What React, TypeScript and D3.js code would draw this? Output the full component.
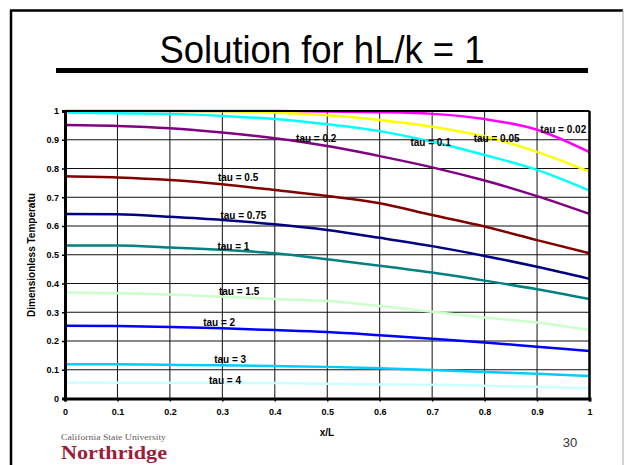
import React, { useEffect, useRef } from 'react';
import * as d3 from 'd3';

// x positions along the slab
const xValues = [0, 0.1, 0.2, 0.3, 0.4, 0.5, 0.6, 0.7, 0.8, 0.9, 1];

// dimensionless temperature for each tau
const tau002 = [1, 1, 1, 1, 1, 0.998, 0.996, 0.99, 0.972, 0.935, 0.857];
const tau005 = [1, 1, 1, 0.999, 0.995, 0.985, 0.969, 0.945, 0.911, 0.858, 0.789];
const tau01 = [0.995, 0.992, 0.99, 0.983, 0.972, 0.954, 0.93, 0.893, 0.847, 0.795, 0.723];
const tau02 = [0.951, 0.948, 0.94, 0.925, 0.905, 0.878, 0.843, 0.804, 0.758, 0.704, 0.642];
const tau05 = [0.773, 0.769, 0.76, 0.745, 0.725, 0.704, 0.679, 0.638, 0.598, 0.551, 0.505];
const tau075 = [0.642, 0.641, 0.632, 0.621, 0.606, 0.586, 0.559, 0.53, 0.496, 0.458, 0.416];
const tau1 = [0.532, 0.532, 0.525, 0.517, 0.505, 0.484, 0.462, 0.438, 0.41, 0.38, 0.346];
const tau15 = [0.369, 0.366, 0.362, 0.354, 0.346, 0.339, 0.322, 0.302, 0.282, 0.264, 0.238];
const tau2 = [0.253, 0.252, 0.249, 0.244, 0.238, 0.231, 0.22, 0.208, 0.195, 0.18, 0.165];
const tau3 = [0.119, 0.119, 0.117, 0.116, 0.113, 0.11, 0.105, 0.099, 0.092, 0.086, 0.078];
const tau4 = [0.056, 0.055, 0.055, 0.054, 0.054, 0.051, 0.049, 0.048, 0.044, 0.041, 0.036];

const seriesNames = ['tau = 0.02', 'tau = 0.05', 'tau = 0.1', 'tau = 0.2', 'tau = 0.5', 'tau = 0.75',
  'tau = 1', 'tau = 1.5', 'tau = 2', 'tau = 3', 'tau = 4'];
const seriesValues = [tau002, tau005, tau01, tau02, tau05, tau075, tau1, tau15, tau2, tau3, tau4];
const seriesColors = ['#ff00ff', '#ffff00', '#00ffff', '#800080', '#800000', '#000080',
  '#008080', '#ccffcc', '#0000ff', '#00ccff', '#ccffff'];

// where each tau label sits, in data units
const labelX = [0.95, 0.823, 0.697, 0.479, 0.33, 0.34, 0.321, 0.332, 0.294, 0.315, 0.305];
const labelY = [0.937, 0.905, 0.891, 0.906, 0.77, 0.638, 0.528, 0.371, 0.266, 0.134, 0.062];

const tickValues = [0, 0.1, 0.2, 0.3, 0.4, 0.5, 0.6, 0.7, 0.8, 0.9, 1];
const tickLabels = ['0', '0.1', '0.2', '0.3', '0.4', '0.5', '0.6', '0.7', '0.8', '0.9', '1'];

const App = () => {
  const ref = useRef<SVGSVGElement | null>(null);

  useEffect(() => {
    if (!ref.current) return;
    const svg = d3.select(ref.current);
    svg.selectAll('*').remove();

    const font = 'Liberation Sans, Arial, sans-serif';
    const left = 65, right = 589.5, top = 111, bottom = 398.5;

    // slide frame
    svg.append('rect').attr('width', 627).attr('height', 465).attr('fill', '#fff');
    svg.append('line').attr('x1', 11).attr('x2', 11).attr('y1', 10).attr('y2', 465)
      .attr('stroke', '#000').attr('stroke-width', 2.5);
    svg.append('line').attr('x1', 10).attr('x2', 623).attr('y1', 10.5).attr('y2', 10.5)
      .attr('stroke', '#000').attr('stroke-width', 2.5);
    svg.append('line').attr('x1', 623).attr('x2', 623).attr('y1', 10).attr('y2', 465)
      .attr('stroke', '#aaa').attr('stroke-width', 1);

    svg.append('text')
      .attr('x', 322).attr('y', 63)
      .attr('text-anchor', 'middle')
      .attr('font-family', font).attr('font-size', 38)
      .attr('textLength', 325).attr('lengthAdjust', 'spacingAndGlyphs')
      .text('Solution for hL/k = 1');
    svg.append('rect').attr('x', 56).attr('y', 68).attr('width', 532).attr('height', 5).attr('fill', '#000');

    const x = d3.scaleLinear().domain([0, 1]).range([left, right]);
    const y = d3.scaleLinear().domain([0, 1]).range([bottom, top]);

    const g = svg.append('g');

    // grid
    g.selectAll('.vgrid')
      .data(tickValues.slice(1, -1))
      .enter().append('line')
      .attr('x1', d => x(d)).attr('x2', d => x(d))
      .attr('y1', top).attr('y2', bottom)
      .attr('stroke', '#111').attr('stroke-width', 1);
    g.selectAll('.hgrid')
      .data(tickValues.slice(1, -1))
      .enter().append('line')
      .attr('x1', left).attr('x2', right)
      .attr('y1', d => y(d)).attr('y2', d => y(d))
      .attr('stroke', '#111').attr('stroke-width', 1);

    // curves
    const line = d3.line<number>()
      .x((d, i) => x(xValues[i]))
      .y(d => y(d))
      .curve(d3.curveMonotoneX);

    seriesValues.forEach((vals, i) => {
      g.append('path')
        .datum(vals)
        .attr('fill', 'none')
        .attr('stroke', seriesColors[i])
        .attr('stroke-width', 2.5)
        .attr('d', line);
    });

    // plot border
    g.append('line').attr('x1', left).attr('x2', right).attr('y1', top).attr('y2', top)
      .attr('stroke', '#000').attr('stroke-width', 2);
    g.append('line').attr('x1', right).attr('x2', right).attr('y1', top).attr('y2', bottom)
      .attr('stroke', '#000').attr('stroke-width', 2.5);

    // axes
    const fmt = (d: d3.NumberValue) => tickLabels[tickValues.indexOf(+d)];
    const xAxis = g.append('g')
      .attr('transform', `translate(0,${bottom})`)
      .call(d3.axisBottom(x).tickValues(tickValues).tickFormat(fmt).tickSize(3).tickPadding(7));
    const yAxis = g.append('g')
      .attr('transform', `translate(${left},0)`)
      .call(d3.axisLeft(y).tickValues(tickValues).tickFormat(fmt).tickSize(3).tickPadding(3));
    [xAxis, yAxis].forEach(a => {
      a.select('.domain').attr('stroke', '#000').attr('stroke-width', 3);
      a.selectAll('.tick line').attr('stroke', '#000').attr('stroke-width', 1.5);
      a.selectAll('text')
        .attr('font-family', font).attr('font-size', 9).attr('font-weight', 'bold').attr('fill', '#000');
    });

    // series labels
    g.selectAll('.label')
      .data(seriesNames)
      .enter().append('text')
      .attr('x', (d, i) => x(labelX[i]))
      .attr('y', (d, i) => y(labelY[i]))
      .attr('dy', '0.35em')
      .attr('text-anchor', 'middle')
      .attr('font-family', font).attr('font-size', 10).attr('font-weight', 'bold')
      .text(d => d);

    // axis titles
    svg.append('text')
      .attr('transform', 'translate(35,255) rotate(-90)')
      .attr('text-anchor', 'middle')
      .attr('font-family', font).attr('font-size', 10).attr('font-weight', 'bold')
      .text('Dimensionless Temperatu');
    svg.append('text')
      .attr('x', 327).attr('y', 436)
      .attr('text-anchor', 'middle')
      .attr('font-family', font).attr('font-size', 10).attr('font-weight', 'bold')
      .text('x/L');

    // footer
    svg.append('text')
      .attr('x', 570).attr('y', 447)
      .attr('text-anchor', 'middle')
      .attr('font-family', font).attr('font-size', 13).attr('fill', '#333')
      .text('30');
    svg.append('text')
      .attr('x', 61).attr('y', 440)
      .attr('font-family', 'Liberation Serif, Times New Roman, serif').attr('font-size', 9)
      .attr('fill', '#6e5a5e')
      .attr('textLength', 105).attr('lengthAdjust', 'spacingAndGlyphs')
      .text('California State University');
    svg.append('text')
      .attr('x', 61).attr('y', 459)
      .attr('font-family', 'Liberation Serif, Times New Roman, serif').attr('font-size', 18)
      .attr('font-weight', 'bold').attr('fill', '#9e1b3a')
      .attr('textLength', 106).attr('lengthAdjust', 'spacingAndGlyphs')
      .text('Northridge');
  }, []);

  return (
    <svg ref={ref} width={627} height={465} style={{ position: 'absolute', left: 0, top: 0 }} />
  );
};

export default App;
